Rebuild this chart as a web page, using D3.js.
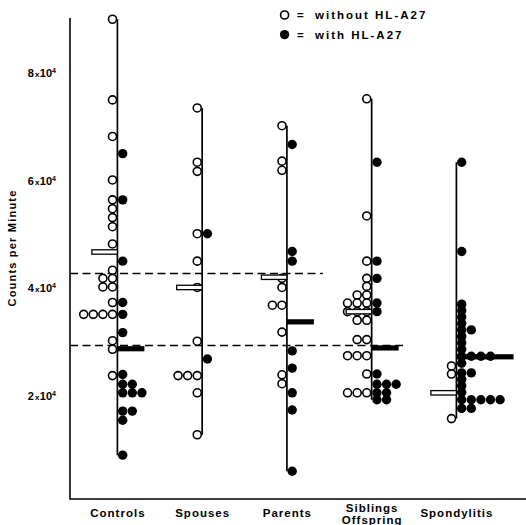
<!DOCTYPE html>
<html>
<head>
<meta charset="utf-8">
<script src="https://cdn.jsdelivr.net/npm/d3@7"></script>
<style>
  html, body { margin: 0; padding: 0; background: #fff; }
  svg { display: block; }
  text { font-family: "Liberation Sans", Arial, sans-serif; font-weight: bold; fill: #000; }
</style>
</head>
<body>
<svg id="chart" width="526" height="525"></svg>
<script>
// ---------------- data ----------------
const categories = ["Controls", "Spouses", "Parents", "Siblings|Offspring", "Spondylitis"];
const yTicks = [20000, 40000, 60000, 80000];
const yTickLabels = ["2", "4", "6", "8"];

const controlsWithout = [90000, 75000, 68200, 60100, 56400, 54750, 53100, 51400, 48200, 43300,
  41800, 41800, 40200, 40200, 37300, 35100, 35100, 35100, 35100, 30200, 28600, 23700];
const controlsWith = [65000, 56400, 45000, 37300, 35100, 31700, 23900, 22100, 22100,
  20500, 20500, 20500, 17100, 17100, 15400, 8900];

const spousesWithout = [73500, 63400, 61700, 50100, 45000, 40100, 30100, 23700, 23700, 23700, 20500, 12700];
const spousesWith = [50100, 26800];

const parentsWithout = [70200, 63600, 61900, 41800, 40100, 36800, 36800, 31800, 23850, 22200];
const parentsWith = [66700, 46800, 45000, 28300, 25100, 20500, 17300, 5900];

const siblingsWithout = [75200, 53400, 45000, 41800, 40300, 38700, 38700, 37200, 37200, 37200,
  35600, 35600, 35600, 34000, 34000, 30400, 30400, 27400, 27400, 27400, 24000, 20500, 20500, 20500];
const siblingsWith = [63400, 45000, 41800, 37200, 35600, 24000, 22100, 22100, 22100, 20500, 20500, 19200, 19200];

const spondylitisWithout = [25500, 24000, 15700];
const spondylitisWith = [63400, 46800, 37000, 35800, 34600, 33400, 32200, 32200, 31000, 29800, 28600,
  27300, 27300, 27300, 27300, 26000, 24200, 24200, 23000, 21800, 20600,
  19200, 19200, 19200, 19200, 19200, 17600, 17600];

const meansWithout = [46700, 40100, 42000, 35600, 20500];
const meansWith = [28700, null, 33700, 28850, 27200];

const refValues = [42700, 29300];
const refThrough = ["Parents", "Siblings|Offspring"];

const withoutSeries = [controlsWithout, spousesWithout, parentsWithout, siblingsWithout, spondylitisWithout];
const withSeries = [controlsWith, spousesWith, parentsWith, siblingsWith, spondylitisWith];

// ---------------- layout ----------------
const svg = d3.select("#chart");
const axisX = 70, axisBottom = 499, axisTop = 18;

const y = d3.scaleLinear().domain([0, 90000]).range([503, 19.25]);
const x = d3.scalePoint().domain(categories).range([117.4, 456.4]);

const rOpen = 4.0, rFilled = 4.7, step = 9.6;

// stacking: equal values sit side by side
function stack(values) {
  const seen = new Map();
  return values.map(v => {
    const k = seen.get(v) || 0;
    seen.set(v, k + 1);
    return { v, slot: k };
  });
}

// axes lines
svg.append("line").attr("x1", axisX).attr("x2", axisX).attr("y1", axisTop).attr("y2", axisBottom + 0.75)
  .attr("stroke", "#000").attr("stroke-width", 1.6);
svg.append("line").attr("x1", axisX).attr("x2", 526).attr("y1", axisBottom).attr("y2", axisBottom)
  .attr("stroke", "#000").attr("stroke-width", 1.6);

// y axis tick labels
const yAxis = d3.axisLeft(y).tickValues(yTicks).tickSize(0).tickPadding(14);
const gy = svg.append("g").attr("transform", `translate(${axisX},0)`).call(yAxis);
gy.select(".domain").remove();
gy.selectAll(".tick text").each(function(d, i) {
  const t = d3.select(this).text(null).attr("font-size", 11).attr("font-family", null).attr("fill", "#000");
  t.append("tspan").text(yTickLabels[i]);
  t.append("tspan").attr("font-size", 8).attr("dx", 1).text("x");
  t.append("tspan").attr("dx", 0.5).text("10");
  t.append("tspan").attr("font-size", 7).attr("dy", -4).text("4");
});

// y title
svg.append("text")
  .attr("transform", "translate(15.5,248) rotate(-90)")
  .attr("text-anchor", "middle")
  .attr("font-size", 11)
  .attr("letter-spacing", 1.2)
  .text("Counts per Minute");

// x axis labels
const xAxis = d3.axisBottom(x).tickSize(0).tickPadding(10);
const gx = svg.append("g").attr("transform", `translate(0,${axisBottom})`).call(xAxis);
gx.select(".domain").remove();
gx.selectAll(".tick text").each(function(d) {
  const t = d3.select(this).text(null).attr("font-size", 11.5).attr("font-family", null)
    .attr("letter-spacing", 1.0).attr("fill", "#000");
  const parts = d.split("|");
  if (parts.length === 1) {
    t.text(parts[0]);
  } else {
    t.attr("dy", null);
    t.append("tspan").attr("x", 0).attr("dy", 2.5).text(parts[0]);
    t.append("tspan").attr("x", 0).attr("dy", 12).text(parts[1]);
  }
});

// group vertical lines
categories.forEach((c, i) => {
  const all = withoutSeries[i].concat(withSeries[i]);
  svg.append("line")
    .attr("x1", x(c)).attr("x2", x(c))
    .attr("y1", y(d3.max(all))).attr("y2", y(d3.min(all)))
    .attr("stroke", "#000").attr("stroke-width", 1.7);
});

// dashed reference lines
refValues.forEach((v, i) => {
  svg.append("line")
    .attr("x1", axisX).attr("x2", x(refThrough[i]) + 36)
    .attr("y1", y(v)).attr("y2", y(v))
    .attr("stroke", "#000").attr("stroke-width", 1.5)
    .attr("stroke-dasharray", "8,4.5");
});

// filled mean bars (under dots)
categories.forEach((c, i) => {
  const m = meansWith[i];
  if (m == null) return;
  const st = stack(withSeries[i]);
  const rowExt = d3.max(st.filter(p => Math.abs(y(p.v) - y(m)) < 3), p => x(c) + rFilled + p.slot * step + rFilled);
  const end = Math.max(x(c) + 27, rowExt ? rowExt + 19 : 0);
  svg.append("rect")
    .attr("x", x(c)).attr("y", y(m) - 2.6)
    .attr("width", end - x(c)).attr("height", 5.2)
    .attr("fill", "#000");
});

// dots
categories.forEach((c, i) => {
  svg.append("g").selectAll("circle").data(stack(withoutSeries[i])).join("circle")
    .attr("cx", p => x(c) - rOpen - 0.9 - p.slot * step)
    .attr("cy", p => y(p.v))
    .attr("r", rOpen)
    .attr("fill", "#fff").attr("stroke", "#000").attr("stroke-width", 1.6);
  svg.append("g").selectAll("circle").data(stack(withSeries[i])).join("circle")
    .attr("cx", p => x(c) + rFilled + 0.6 + p.slot * step)
    .attr("cy", p => y(p.v))
    .attr("r", rFilled)
    .attr("fill", "#000");
});

// open mean bars (on top)
categories.forEach((c, i) => {
  const m = meansWithout[i];
  svg.append("rect")
    .attr("x", x(c) - 25.5).attr("y", y(m) - 2.2)
    .attr("width", 25.5).attr("height", 4.4)
    .attr("fill", "#fff").attr("stroke", "#000").attr("stroke-width", 1.3);
});

// legend
const legend = svg.append("g");
const legendItems = [{ label: "without HL-A27", open: true }, { label: "with HL-A27", open: false }];
legendItems.forEach((d, i) => {
  const cy = 15 + i * 19.6;
  legend.append("circle").attr("cx", 284.6).attr("cy", cy)
    .attr("r", d.open ? 4.0 : 4.7)
    .attr("fill", d.open ? "#fff" : "#000")
    .attr("stroke", d.open ? "#000" : "none").attr("stroke-width", 1.6);
  legend.append("text").attr("x", 297).attr("y", cy + 4).attr("font-size", 11.5).text("=");
  legend.append("text").attr("x", 315).attr("y", cy + 4.2).attr("font-size", 11.5)
    .attr("letter-spacing", 2.0).text(d.label);
});
</script>
</body>
</html>
